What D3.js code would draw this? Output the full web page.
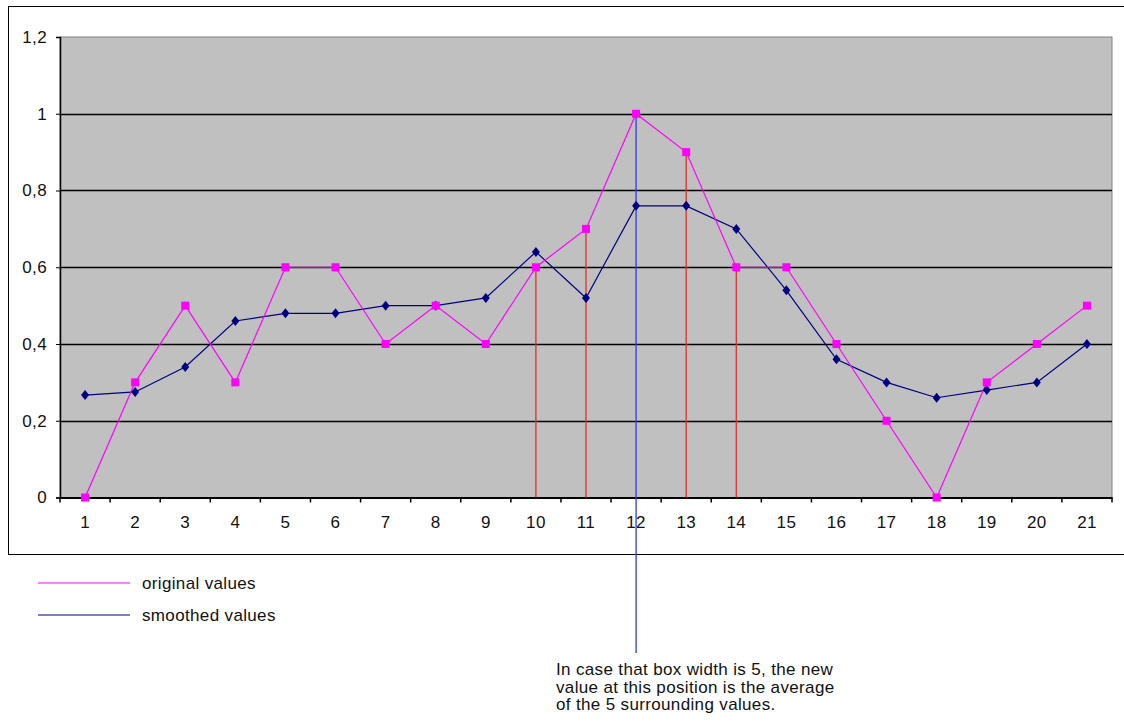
<!DOCTYPE html>
<html><head><meta charset="utf-8">
<script src="https://cdn.jsdelivr.net/npm/d3@7"></script>
<style>body{margin:0;background:#fff;}svg{display:block;font-family:"Liberation Sans",Arial,sans-serif;}</style>
</head><body>
<svg id="c" width="1124" height="722"></svg>
<script>
const categories = ["1","2","3","4","5","6","7","8","9","10","11","12","13","14","15","16","17","18","19","20","21"];
const originalValues = [0,0.3,0.5,0.3,0.6,0.6,0.4,0.5,0.4,0.6,0.7,1.0,0.9,0.6,0.6,0.4,0.2,0,0.3,0.4,0.5];
const smoothedValues = [0.267,0.275,0.34,0.46,0.48,0.48,0.5,0.5,0.52,0.64,0.52,0.76,0.76,0.7,0.54,0.36,0.3,0.26,0.28,0.3,0.4];
const yTicks = [0,0.2,0.4,0.6,0.8,1,1.2];
const redDropCats = ["10","11","13","14"];
const blueDropCat = "12";
const legendLabels = ["original values","smoothed values"];
const noteLines = ["In case that box width is 5, the new","value at this position is the average","of the 5 surrounding values."];

const FS = 17, LS = "0.35px";
const svg = d3.select("#c");
const L=60, R=1112, T=37, B=497.5;
const x = d3.scaleBand().domain(categories).range([L,R]);
const y = d3.scaleLinear().domain([0,1.2]).range([B,T]);
const cx = c => x(c)+x.bandwidth()/2;

// outer chart border
svg.append("rect").attr("x",8.5).attr("y",6.5).attr("width",1130).attr("height",548)
  .attr("fill","#fff").attr("stroke","#000").attr("stroke-width",1);

// plot area
svg.append("rect").attr("x",L).attr("y",T).attr("width",R-L).attr("height",B-T)
  .attr("fill","#c0c0c0").attr("stroke","#808080").attr("stroke-width",1);

// gridlines
svg.append("g").selectAll("line").data(yTicks.filter(v=>v>0&&v<1.2)).join("line")
  .attr("x1",L).attr("x2",R).attr("y1",d=>Math.round(y(d))+0.5).attr("y2",d=>Math.round(y(d))+0.5)
  .attr("stroke","#000").attr("stroke-width",1.3);

// y axis
const yAxis = d3.axisLeft(y).tickValues(yTicks).tickSize(4).tickPadding(9)
  .tickFormat(d=>String(d).replace(".",","));
const gy = svg.append("g").attr("transform",`translate(${L},0)`).call(yAxis);
gy.select(".domain").attr("stroke","#000").attr("stroke-width",1.5);
gy.selectAll(".tick line").attr("stroke","#000");
gy.selectAll("text").attr("font-size",FS).attr("letter-spacing",LS).attr("fill","#111").attr("font-family","Liberation Sans, Arial, sans-serif");

// x axis
const xAxis = d3.axisBottom(x).tickSize(0).tickPadding(18);
const gx = svg.append("g").attr("transform",`translate(0,${B})`).call(xAxis);
gx.select(".domain").attr("stroke","#000").attr("stroke-width",2);
gx.selectAll("text").attr("font-size",FS).attr("letter-spacing",LS).attr("fill","#111").attr("font-family","Liberation Sans, Arial, sans-serif");
// tick marks at band boundaries
const bounds = categories.map(c=>x(c)).concat([R]);
svg.append("g").selectAll("line").data(bounds).join("line")
  .attr("x1",d=>d).attr("x2",d=>d).attr("y1",B).attr("y2",B+5).attr("stroke","#000").attr("stroke-width",1.5);

// red drop lines
svg.append("g").selectAll("line").data(redDropCats).join("line")
  .attr("x1",cx).attr("x2",cx)
  .attr("y1",c=>y(originalValues[categories.indexOf(c)])).attr("y2",B)
  .attr("stroke","#e0302a").attr("stroke-width",1.3);

// smoothed line
const line = d3.line().x((d,i)=>cx(categories[i])).y(d=>y(d));
svg.append("path").datum(smoothedValues).attr("d",line).attr("fill","none")
  .attr("stroke","#000080").attr("stroke-width",1.2);
// original line
svg.append("path").datum(originalValues).attr("d",line).attr("fill","none")
  .attr("stroke","#ff00ff").attr("stroke-width",1.2);

// blue drop line
svg.append("line").attr("x1",cx(blueDropCat)).attr("x2",cx(blueDropCat))
  .attr("y1",y(originalValues[categories.indexOf(blueDropCat)])).attr("y2",653)
  .attr("stroke","#2b3fcf").attr("stroke-width",1.3);

// smoothed markers (diamonds)
svg.append("g").selectAll("path").data(smoothedValues).join("path")
  .attr("transform",(d,i)=>`translate(${cx(categories[i])},${y(d)})`)
  .attr("d","M0,-5L4,0L0,5L-4,0Z").attr("fill","#000080");
// original markers (squares)
svg.append("g").selectAll("rect").data(originalValues).join("rect")
  .attr("x",(d,i)=>cx(categories[i])-4).attr("y",d=>y(d)-4).attr("width",8).attr("height",8)
  .attr("fill","#ff00ff");

// legend
const legColors = ["#ff00ff","#000080"];
const lg = svg.append("g");
legendLabels.forEach((t,i)=>{
  const yy = 583 + i*32;
  lg.append("line").attr("x1",38).attr("x2",130).attr("y1",yy).attr("y2",yy).attr("stroke",legColors[i]).attr("stroke-width",1.2);
  lg.append("text").attr("x",142).attr("y",yy+6).attr("font-size",FS).attr("letter-spacing",LS).attr("fill","#111").text(t);
});

// annotation
svg.append("g").selectAll("text").data(noteLines).join("text")
  .attr("x",556).attr("y",(d,i)=>675+i*17.5).attr("font-size",FS).attr("letter-spacing",LS).attr("fill","#111").text(d=>d);
</script>
</body></html>
